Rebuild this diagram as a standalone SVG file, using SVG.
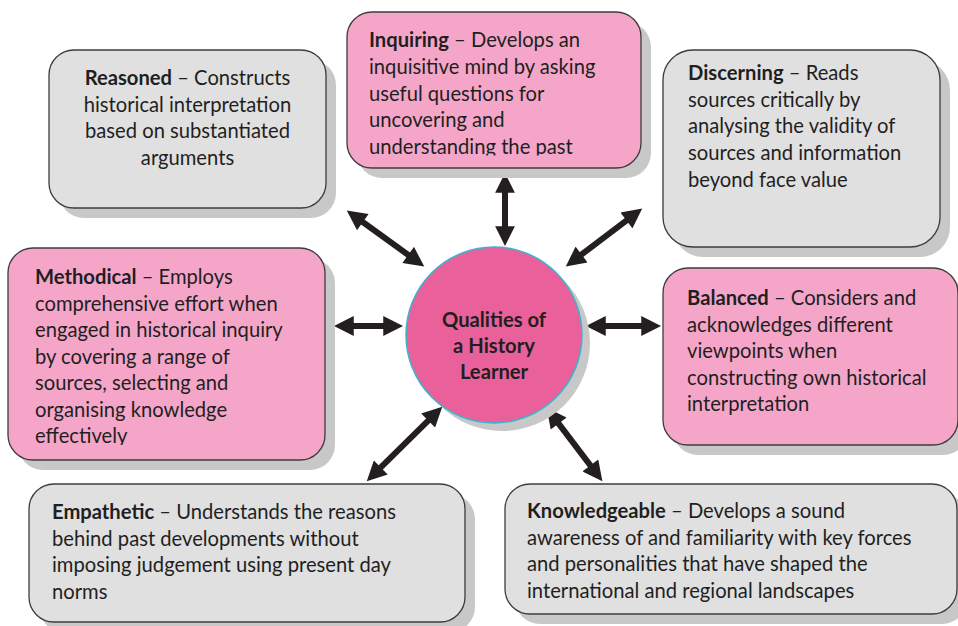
<svg xmlns="http://www.w3.org/2000/svg" width="958" height="626" viewBox="0 0 958 626">
<style>
.shadow{fill:#c8c8c8}
.pink{fill:#f5a6c8;stroke:#3c3c3c;stroke-width:1.3}
.gray{fill:#e0e0e0;stroke:#3c3c3c;stroke-width:1.3}
text{font-family:Lato,"Open Sans","Liberation Sans",sans-serif;font-size:20.2px;fill:#1f1f1f}
.b{font-weight:bold}
.conn{stroke:#231f20;stroke-width:6;fill:none;marker-start:url(#ah);marker-end:url(#ah)}
</style>
<defs>
<marker id="ah" viewBox="0 0 10 10" refX="2" refY="5" markerWidth="3.5" markerHeight="3.3" orient="auto-start-reverse">
<path d="M0,0 L10,5 L0,10 z" fill="#231f20"/>
</marker>
<clipPath id="clipInq"><rect x="347" y="12" width="296" height="143.5"/></clipPath>
<clipPath id="clipMeth"><rect x="8" y="248" width="320" height="197"/></clipPath>
</defs>

<g id="connectors">
<line class="conn" x1="505" y1="188.8" x2="505" y2="230.2"/>
<line class="conn" x1="359.6" y1="219.8" x2="411.4" y2="257.2"/>
<line class="conn" x1="629.6" y1="218.1" x2="578.4" y2="256.9"/>
<line class="conn" x1="349.8" y1="326" x2="387.2" y2="326"/>
<line class="conn" x1="601.8" y1="326" x2="645.2" y2="326"/>
<line class="conn" x1="431" y1="417.8" x2="378" y2="470.2"/>
<line class="conn" x1="556.2" y1="420.4" x2="592.8" y2="468.6"/>
</g>

<g id="inquiring">
<rect class="shadow" x="357" y="22" width="294" height="156" rx="25"/>
<rect class="pink" x="347" y="12" width="294" height="156" rx="25"/>
<g clip-path="url(#clipInq)">
<text x="369" y="47"><tspan class="b">Inquiring</tspan> – Develops an</text>
<text x="369" y="74">inquisitive mind by asking</text>
<text x="369" y="100.5">useful questions for</text>
<text x="369" y="127">uncovering and</text>
<text x="369" y="153.5">understanding the past</text>
</g>
</g>

<g id="reasoned">
<rect class="shadow" x="59" y="60" width="277" height="158" rx="25"/>
<rect class="gray" x="49" y="50" width="277" height="158" rx="25"/>
<text x="187.5" y="85" text-anchor="middle"><tspan class="b">Reasoned</tspan> – Constructs</text>
<text x="187.5" y="111.5" text-anchor="middle">historical interpretation</text>
<text x="187.5" y="138" text-anchor="middle">based on substantiated</text>
<text x="187.5" y="164.5" text-anchor="middle">arguments</text>
</g>

<g id="discerning">
<rect class="shadow" x="673" y="60" width="277" height="197" rx="30"/>
<rect class="gray" x="663" y="50" width="277" height="197" rx="30"/>
<text x="688" y="80"><tspan class="b">Discerning</tspan> – Reads</text>
<text x="688" y="106.5">sources critically by</text>
<text x="688" y="133">analysing the validity of</text>
<text x="688" y="160">sources and information</text>
<text x="688" y="187">beyond face value</text>
</g>

<g id="methodical">
<rect class="shadow" x="18" y="258" width="317" height="212" rx="25"/>
<rect class="pink" x="8" y="248" width="317" height="212" rx="25"/>
<g clip-path="url(#clipMeth)">
<text x="35" y="284"><tspan class="b">Methodical</tspan> – Employs</text>
<text x="35" y="310.5">comprehensive effort when</text>
<text x="35" y="337">engaged in historical inquiry</text>
<text x="35" y="363.5">by covering a range of</text>
<text x="35" y="390">sources, selecting and</text>
<text x="35" y="416.5">organising knowledge</text>
<text x="35" y="443">effectively</text>
</g>
</g>

<g id="balanced">
<rect class="shadow" x="673" y="278" width="295" height="177" rx="25"/>
<rect class="pink" x="663" y="268" width="295" height="177" rx="25"/>
<text x="687" y="305"><tspan class="b">Balanced</tspan> – Considers and</text>
<text x="687" y="331.5">acknowledges different</text>
<text x="687" y="358">viewpoints when</text>
<text x="687" y="384.5">constructing own historical</text>
<text x="687" y="411">interpretation</text>
</g>

<g id="center">
<circle class="shadow" cx="502" cy="343" r="88"/>
<circle cx="494" cy="335" r="88" fill="#e9609a" stroke="#3ab4cf" stroke-width="1.5"/>
<text class="b" x="494" y="327" text-anchor="middle" font-size="18.5">Qualities of</text>
<text class="b" x="494" y="353" text-anchor="middle" font-size="18.5">a History</text>
<text class="b" x="494" y="379" text-anchor="middle" font-size="18.5">Learner</text>
</g>

<g id="empathetic">
<rect class="shadow" x="39" y="494" width="436" height="138" rx="25"/>
<rect class="gray" x="29" y="484" width="436" height="138" rx="25"/>
<text x="52" y="519"><tspan class="b">Empathetic</tspan> – Understands the reasons</text>
<text x="52" y="545.5">behind past developments without</text>
<text x="52" y="572">imposing judgement using present day</text>
<text x="52" y="598.5">norms</text>
</g>

<g id="knowledgeable">
<rect class="shadow" x="515" y="494" width="452" height="130" rx="25"/>
<rect class="gray" x="505" y="484" width="452" height="130" rx="25"/>
<text x="527" y="518"><tspan class="b">Knowledgeable</tspan> – Develops a sound</text>
<text x="527" y="544.5">awareness of and familiarity with key forces</text>
<text x="527" y="571">and personalities that have shaped the</text>
<text x="527" y="597.5">international and regional landscapes</text>
</g>
</svg>
